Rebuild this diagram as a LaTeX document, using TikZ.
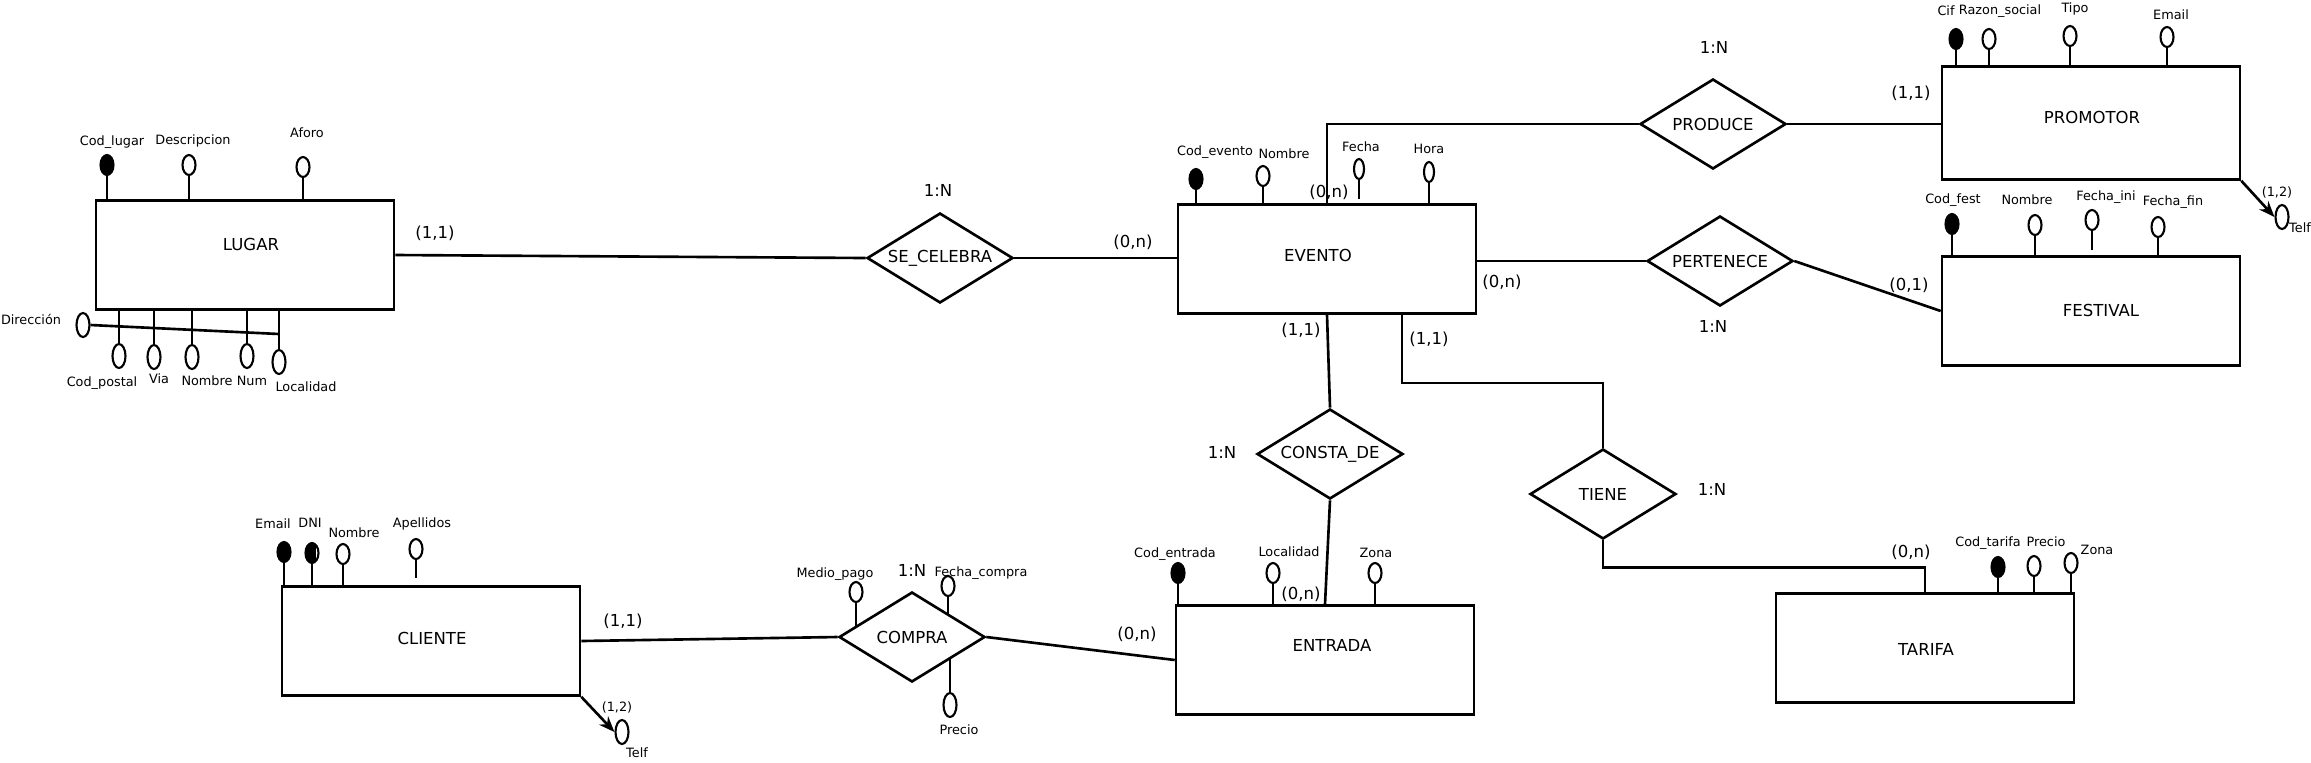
\documentclass[tikz,border=0pt]{standalone}
\usepackage{fontspec}
\setmainfont{DejaVu Sans}
\usetikzlibrary{shapes.geometric}
\usetikzlibrary{arrows.meta}

\begin{document}
\begin{tikzpicture}[x=0.02cm,y=-0.02cm,line width=1.5pt,
	entidad/.style={draw,rectangle,minimum width=5.96cm,minimum height=2.18cm},
	nombre/.style={inner sep=0pt,font=\fontsize{9.4}{11}\selectfont},
	relacion/.style={draw,diamond,minimum width=2.92cm,minimum height=1.8cm,inner sep=0pt,shape aspect=2,font=\fontsize{9.4}{11}\selectfont},
	atrib/.style={draw,ellipse,minimum width=0.26cm,minimum height=0.4cm,inner sep=0pt,line width=1.2pt},
	atribl/.style={atrib,minimum height=0.48cm},
	clave/.style={atrib,fill=black},
	clavem/.style={atrib,path picture={\fill[black] (path picture bounding box.south west) rectangle ([xshift=-1.6pt]path picture bounding box.north east);}},
	txt/.style={inner sep=0pt,font=\fontsize{7.3}{9}\selectfont},
	card/.style={inner sep=0pt,font=\fontsize{9.4}{11}\selectfont}]
\useasboundingbox (0,0) rectangle (2311,762);

% entidades
\node[entidad] (lugar) at (245,255) {};
\node[entidad] (evento) at (1327,259) {};
\node[entidad,minimum height=2.26cm] (promotor) at (2091,123) {};
\node[entidad] (festival) at (2091,311) {};
\node[entidad] (entrada) at (1325,660) {};
\node[entidad] (tarifa) at (1925,648) {};
\node[entidad] (cliente) at (431,641) {};
\node[nombre] (lugar_t) at (251,244) {LUGAR};
\node[nombre] (evento_t) at (1318,255) {EVENTO};
\node[nombre] (promotor_t) at (2092,117) {PROMOTOR};
\node[nombre] (festival_t) at (2101,310) {FESTIVAL};
\node[nombre] (entrada_t) at (1332,645) {ENTRADA};
\node[nombre] (tarifa_t) at (1926,649) {TARIFA};
\node[nombre] (cliente_t) at (432,638) {CLIENTE};

% relaciones
\node[relacion] (secel) at (940,258) {SE\_CELEBRA};
\node[relacion] (produce) at (1713,124) {PRODUCE};
\node[relacion] (pertenece) at (1720,261) {PERTENECE};
\node[relacion] (consta) at (1330,454) {CONSTA\_DE};
\node[relacion] (tiene) at (1603,494) {TIENE};
\node[relacion] (compra) at (912,637) {COMPRA};

\draw (lugar.east) -- (secel.west);
\draw (secel.east) -- (secel.east -| evento.west);
\draw (evento.north) |- (produce.west);
\draw (produce.east) -- (produce.east -| promotor.west);
\draw (evento.east |- pertenece.west) -- (pertenece.west);
\draw (pertenece.east) -- (festival.west);
\draw (evento.south) -- (consta.north);
\draw (consta.south) -- (entrada.north);
\draw ([xshift=1.5cm]evento.south) -- ++(0,68) -| (tiene.north);
\draw (tiene.south) -- ++(0,27) -| (tarifa.north);
\draw (cliente.east) -- (compra.west);
\draw (compra.east) -- (entrada.west);

% cardinalidades
\node[card] (c_lug) at (435,233) {(1,1)};
\node[card] (n_sec) at (938,190) {1:N};
\node[card] (c_ev1) at (1133,242) {(0,n)};
\node[card] (c_ev2) at (1329,192) {(0,n)};
\node[card] (n_pro) at (1714,47) {1:N};
\node[card] (c_pro) at (1911,93) {(1,1)};
\node[card] (c_ev3) at (1502,282) {(0,n)};
\node[card] (n_per) at (1713,326) {1:N};
\node[card] (c_fes) at (1909,285) {(0,1)};
\node[card] (c_ev4) at (1301,330) {(1,1)};
\node[card] (c_ev5) at (1429,339) {(1,1)};
\node[card] (n_con) at (1222,452) {1:N};
\node[card] (n_tie) at (1712,489) {1:N};
\node[card] (c_tar) at (1911,552) {(0,n)};
\node[card] (c_en1) at (1301,594) {(0,n)};
\node[card] (c_en2) at (1137,634) {(0,n)};
\node[card] (n_com) at (912,570) {1:N};
\node[card] (c_cli) at (623,621) {(1,1)};

% LUGAR
\node[clave] (lug_cod) at (107,165) {};
\node[atrib] (lug_des) at (189,165) {};
\node[atrib] (lug_afo) at (303,167) {};
\node[txt] (lug_cod_t) at (112,142) {Cod\_lugar};
\node[txt] (lug_des_t) at (193,141) {Descripcion};
\node[txt] (lug_afo_t) at (307,133) {Aforo};
\draw (lug_cod.south) -- (lug_cod.south |- lugar.north);
\draw (lug_des.south) -- (lug_des.south |- lugar.north);
\draw (lug_afo.south) -- (lug_afo.south |- lugar.north);
\node[atribl] (lug_dir) at (83,325) {};
\node[atribl] (lug_cp) at (119,356) {};
\node[atribl] (lug_via) at (154,357) {};
\node[atribl] (lug_nom) at (192,357) {};
\node[atribl] (lug_num) at (247,356) {};
\node[atribl] (lug_loc) at (279,362) {};
\node[txt] (lug_dir_t) at (31,319) {Dirección};
\node[txt] (lug_cp_t) at (102,383) {Cod\_postal};
\node[txt] (lug_via_t) at (159,379) {Via};
\node[txt] (lug_nom_t) at (207,381) {Nombre};
\node[txt] (lug_num_t) at (252,381) {Num};
\node[txt] (lug_loc_t) at (306,387) {Localidad};
\coordinate (dir_fin) at (279,334);
\draw (lug_dir.east) -- (dir_fin);
\foreach \a in {lug_cp,lug_via,lug_nom,lug_num,lug_loc}
	\draw (\a.north) -- (\a.north |- lugar.south);

% EVENTO
\node[clave] (ev_cod) at (1196,179) {};
\node[atrib] (ev_nom) at (1263,176) {};
\node[atrib,minimum width=0.2cm] (ev_fec) at (1359,169) {};
\node[atrib,minimum width=0.2cm] (ev_hor) at (1429,172) {};
\node[txt] (ev_cod_t) at (1215,152) {Cod\_evento};
\node[txt] (ev_nom_t) at (1284,154) {Nombre};
\node[txt] (ev_fec_t) at (1361,147) {Fecha};
\node[txt] (ev_hor_t) at (1429,149) {Hora};
\draw (ev_cod.south) -- (ev_cod.south |- evento.north);
\draw (ev_nom.south) -- (ev_nom.south |- evento.north);
\draw[shorten >=0.08cm] (ev_fec.south) -- (ev_fec.south |- evento.north);
\draw (ev_hor.south) -- (ev_hor.south |- evento.north);

% PROMOTOR
\node[clave] (pro_cif) at (1956,39) {};
\node[atrib] (pro_raz) at (1989,39) {};
\node[atrib] (pro_tip) at (2070,36) {};
\node[atrib] (pro_ema) at (2167,37) {};
\node[txt] (pro_cif_t) at (1946,11) {Cif};
\node[txt] (pro_raz_t) at (2000,11) {Razon\_social};
\node[txt] (pro_tip_t) at (2075,9) {Tipo};
\node[txt] (pro_ema_t) at (2171,15) {Email};
\foreach \a in {pro_cif,pro_raz,pro_tip,pro_ema}
	\draw (\a.south) -- (\a.south |- promotor.north);
\node[atribl] (pro_tel) at (2282,217) {};
\node[txt] (pro_tel_t) at (2300,228) {Telf};
\node[txt] (pro_tel_c) at (2277,192) {(1,2)};
\draw[-{Stealth[length=9pt,width=7pt]}] (promotor.south east) -- (pro_tel.west);

% FESTIVAL
\node[clave] (fes_cod) at (1952,224) {};
\node[atrib] (fes_nom) at (2035,225) {};
\node[atrib] (fes_ini) at (2092,220) {};
\node[atrib] (fes_fin) at (2158,227) {};
\node[txt] (fes_cod_t) at (1953,200) {Cod\_fest};
\node[txt] (fes_nom_t) at (2027,200) {Nombre};
\node[txt] (fes_ini_t) at (2106,197) {Fecha\_ini};
\node[txt] (fes_fin_t) at (2173,202) {Fecha\_fin};
\draw (fes_cod.south) -- (fes_cod.south |- festival.north);
\draw (fes_nom.south) -- (fes_nom.south |- festival.north);
\draw[shorten >=0.1cm] (fes_ini.south) -- (fes_ini.south |- festival.north);
\draw (fes_fin.south) -- (fes_fin.south |- festival.north);

% TARIFA
\node[clave] (tar_cod) at (1998,567) {};
\node[atrib] (tar_pre) at (2034,566) {};
\node[atrib] (tar_zon) at (2071,563) {};
\node[txt] (tar_cod_t) at (1988,543) {Cod\_tarifa};
\node[txt] (tar_pre_t) at (2046,542) {Precio};
\node[txt] (tar_zon_t) at (2097,550) {Zona};
\foreach \a in {tar_cod,tar_pre,tar_zon}
	\draw (\a.south) -- (\a.south |- tarifa.north);

% ENTRADA
\node[clave] (ent_cod) at (1178,573) {};
\node[atrib] (ent_loc) at (1273,573) {};
\node[atrib] (ent_zon) at (1375,573) {};
\node[txt] (ent_cod_t) at (1175,554) {Cod\_entrada};
\node[txt] (ent_loc_t) at (1289,552) {Localidad};
\node[txt] (ent_zon_t) at (1376,553) {Zona};
\foreach \a in {ent_cod,ent_loc,ent_zon}
	\draw (\a.south) -- (\a.south |- entrada.north);

% CLIENTE
\node[clave] (cli_ema) at (284,552) {};
\node[clavem] (cli_dni) at (312,553) {};
\node[atrib] (cli_nom) at (343,554) {};
\node[atrib] (cli_ape) at (416,549) {};
\node[txt] (cli_ema_t) at (273,524) {Email};
\node[txt] (cli_dni_t) at (310,523) {DNI};
\node[txt] (cli_nom_t) at (354,533) {Nombre};
\node[txt] (cli_ape_t) at (422,524) {Apellidos};
\draw (cli_ema.south) -- (cli_ema.south |- cliente.north);
\draw (cli_dni.south) -- (cli_dni.south |- cliente.north);
\draw (cli_nom.south) -- (cli_nom.south |- cliente.north);
\draw[shorten >=0.14cm] (cli_ape.south) -- (cli_ape.south |- cliente.north);
\node[atribl] (cli_tel) at (622,732) {};
\node[txt] (cli_tel_t) at (637,753) {Telf};
\node[txt] (cli_tel_c) at (617,707) {(1,2)};
\draw[-{Stealth[length=9pt,width=7pt]}] (cliente.south east) -- (cli_tel.west);

% COMPRA
\node[atrib] (com_med) at (856,592) {};
\node[atrib] (com_fec) at (948,586) {};
\node[atribl] (com_pre) at (950,705) {};
\node[txt] (com_med_t) at (835,574) {Medio\_pago};
\node[txt] (com_fec_t) at (981,573) {Fecha\_compra};
\node[txt] (com_pre_t) at (959,730) {Precio};
\coordinate (med_fin) at (856,626);
\coordinate (fec_fin) at (948,614);
\coordinate (pre_fin) at (950,659);
\draw (com_med.south) -- (med_fin);
\draw (com_fec.south) -- (fec_fin);
\draw (com_pre.north) -- (pre_fin);
\end{tikzpicture}
\end{document}
